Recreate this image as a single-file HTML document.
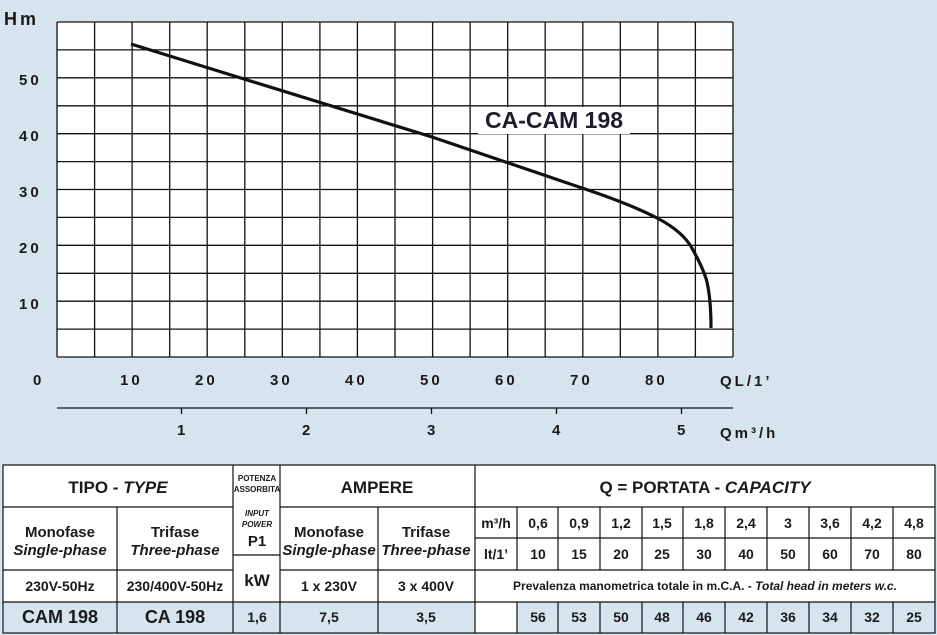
<!DOCTYPE html>
<html><head><meta charset="utf-8"><style>
html,body{margin:0;padding:0;background:#d5e4ed;}
svg{display:block}
text{font-family:"Liberation Sans",sans-serif;fill:#1a1a1a}
.ax{font-size:15px;font-weight:bold;letter-spacing:3px}
.t{font-size:15px;text-anchor:middle;font-weight:bold}
.b{font-weight:bold}
.n{font-weight:normal}
.i{font-style:italic}
</style></head><body>
<svg width="937" height="635" viewBox="0 0 937 635" xmlns="http://www.w3.org/2000/svg">
<rect width="937" height="635" fill="#d5e4ed"/>
<rect x="57" y="22" width="676" height="335" fill="#fff"/>
<g stroke="#111" stroke-width="1.3">
<path d="M57 22V357M94.6 22V357M132.1 22V357M169.7 22V357M207.2 22V357M244.8 22V357M282.3 22V357M319.9 22V357M357.4 22V357M395 22V357M432.6 22V357M470.1 22V357M507.7 22V357M545.2 22V357M582.8 22V357M620.3 22V357M657.9 22V357M695.4 22V357M733 22V357"/>
<path d="M57 22H733M57 49.9H733M57 77.8H733M57 105.8H733M57 133.7H733M57 161.6H733M57 189.5H733M57 217.4H733M57 245.3H733M57 273.3H733M57 301.2H733M57 329.1H733M57 357H733"/>
<path d="M57 408H733M181.5 408V414M306.5 408V414M431.5 408V414M556.5 408V414M681.5 408V414"/>
</g>
<rect x="478" y="107" width="152" height="27" fill="#fff"/>
<text x="485" y="128" style="font-size:23px;font-weight:bold;fill:#1c1c2c">CA-CAM 198</text>
<path d="M131 44 L244 79 L432 137 L582 188 Q630 204 657 218 Q684 232 693 250 Q704 270 707 282 Q711 300 711 328" fill="none" stroke="#111" stroke-width="3.2" stroke-linejoin="round"/>
<g class="ax">
<text x="4" y="25" style="font-size:18px">Hm</text>
<text x="19" y="85">50</text><text x="19" y="141">40</text><text x="19" y="197">30</text><text x="19" y="253">20</text><text x="19" y="309">10</text>
<text x="33" y="385">0</text>
<text x="120" y="385">10</text><text x="195" y="385">20</text><text x="270" y="385">30</text><text x="345" y="385">40</text><text x="420" y="385">50</text><text x="495" y="385">60</text><text x="570" y="385">70</text><text x="645" y="385">80</text>
<text x="720" y="386">QL/1’</text>
<text x="177" y="435">1</text><text x="302" y="435">2</text><text x="427" y="435">3</text><text x="552" y="435">4</text><text x="677" y="435">5</text>
<text x="720" y="438">Qm³/h</text>
</g>
<!-- table -->
<rect x="3" y="465" width="932" height="168" fill="#fff"/>
<rect x="3" y="602" width="472" height="31" fill="#d5e4ed"/>
<rect x="517" y="602" width="418" height="31" fill="#d5e4ed"/>
<g stroke="#111" stroke-width="1.2" fill="none">
<rect x="3" y="465" width="932" height="168"/>
<path d="M3 507H233M280 507H935M3 570H233M280 570H935M3 602H935M475 538H935M233 555H280"/>
<path d="M117 507V633M233 465V633M280 465V633M378 507V633M475 465V633M517 507V570M517 602V633"/>
<path d="M558 507V570M600 507V570M642 507V570M683 507V570M725 507V570M767 507V570M809 507V570M851 507V570M893 507V570"/>
<path d="M558 602V633M600 602V633M642 602V633M683 602V633M725 602V633M767 602V633M809 602V633M851 602V633M893 602V633"/>
</g>
<g class="t">
<text x="118" y="493" style="font-size:17px">TIPO - <tspan class="i">TYPE</tspan></text>
<text x="377" y="493" style="font-size:17px">AMPERE</text>
<text x="705" y="493" style="font-size:17px">Q = PORTATA - <tspan class="i">CAPACITY</tspan></text>
<text x="257" y="481" style="font-size:8px">POTENZA</text>
<text x="257" y="492" style="font-size:8px">ASSORBITA</text>
<text x="257" y="516" class="i" style="font-size:8px">INPUT</text>
<text x="257" y="527" class="i" style="font-size:8px">POWER</text>
<text x="257" y="546" style="font-size:15px">P1</text>
<text x="257" y="586" style="font-size:17px">kW</text>
<text x="60" y="537">Monofase</text><text x="60" y="555" class="i">Single-phase</text>
<text x="175" y="537">Trifase</text><text x="175" y="555" class="i">Three-phase</text>
<text x="329" y="537">Monofase</text><text x="329" y="555" class="i">Single-phase</text>
<text x="426" y="537">Trifase</text><text x="426" y="555" class="i">Three-phase</text>
<text x="60" y="591" style="font-size:14px">230V-50Hz</text>
<text x="175" y="591" style="font-size:14px">230/400V-50Hz</text>
<text x="329" y="591" style="font-size:14px">1 x 230V</text>
<text x="426" y="591" style="font-size:14px">3 x 400V</text>
<text x="60" y="623" style="font-size:18px">CAM 198</text>
<text x="175" y="623" style="font-size:18px">CA 198</text>
<text x="257" y="622" style="font-size:14px">1,6</text>
<text x="329" y="622" style="font-size:14px">7,5</text>
<text x="426" y="622" style="font-size:14px">3,5</text>
<text x="705" y="590" style="font-size:12px">Prevalenza manometrica totale in m.C.A. - <tspan class="i">Total head in meters w.c.</tspan></text>
<g style="font-size:14px">
<text x="496" y="528">m³/h</text><text x="496" y="559">lt/1’</text>
<text x="538" y="528">0,6</text><text x="579" y="528">0,9</text><text x="621" y="528">1,2</text><text x="662" y="528">1,5</text><text x="704" y="528">1,8</text><text x="746" y="528">2,4</text><text x="788" y="528">3</text><text x="830" y="528">3,6</text><text x="872" y="528">4,2</text><text x="914" y="528">4,8</text>
<text x="538" y="559">10</text><text x="579" y="559">15</text><text x="621" y="559">20</text><text x="662" y="559">25</text><text x="704" y="559">30</text><text x="746" y="559">40</text><text x="788" y="559">50</text><text x="830" y="559">60</text><text x="872" y="559">70</text><text x="914" y="559">80</text>
<text x="538" y="622">56</text><text x="579" y="622">53</text><text x="621" y="622">50</text><text x="662" y="622">48</text><text x="704" y="622">46</text><text x="746" y="622">42</text><text x="788" y="622">36</text><text x="830" y="622">34</text><text x="872" y="622">32</text><text x="914" y="622">25</text>
</g>
</g>
</svg>
</body></html>
